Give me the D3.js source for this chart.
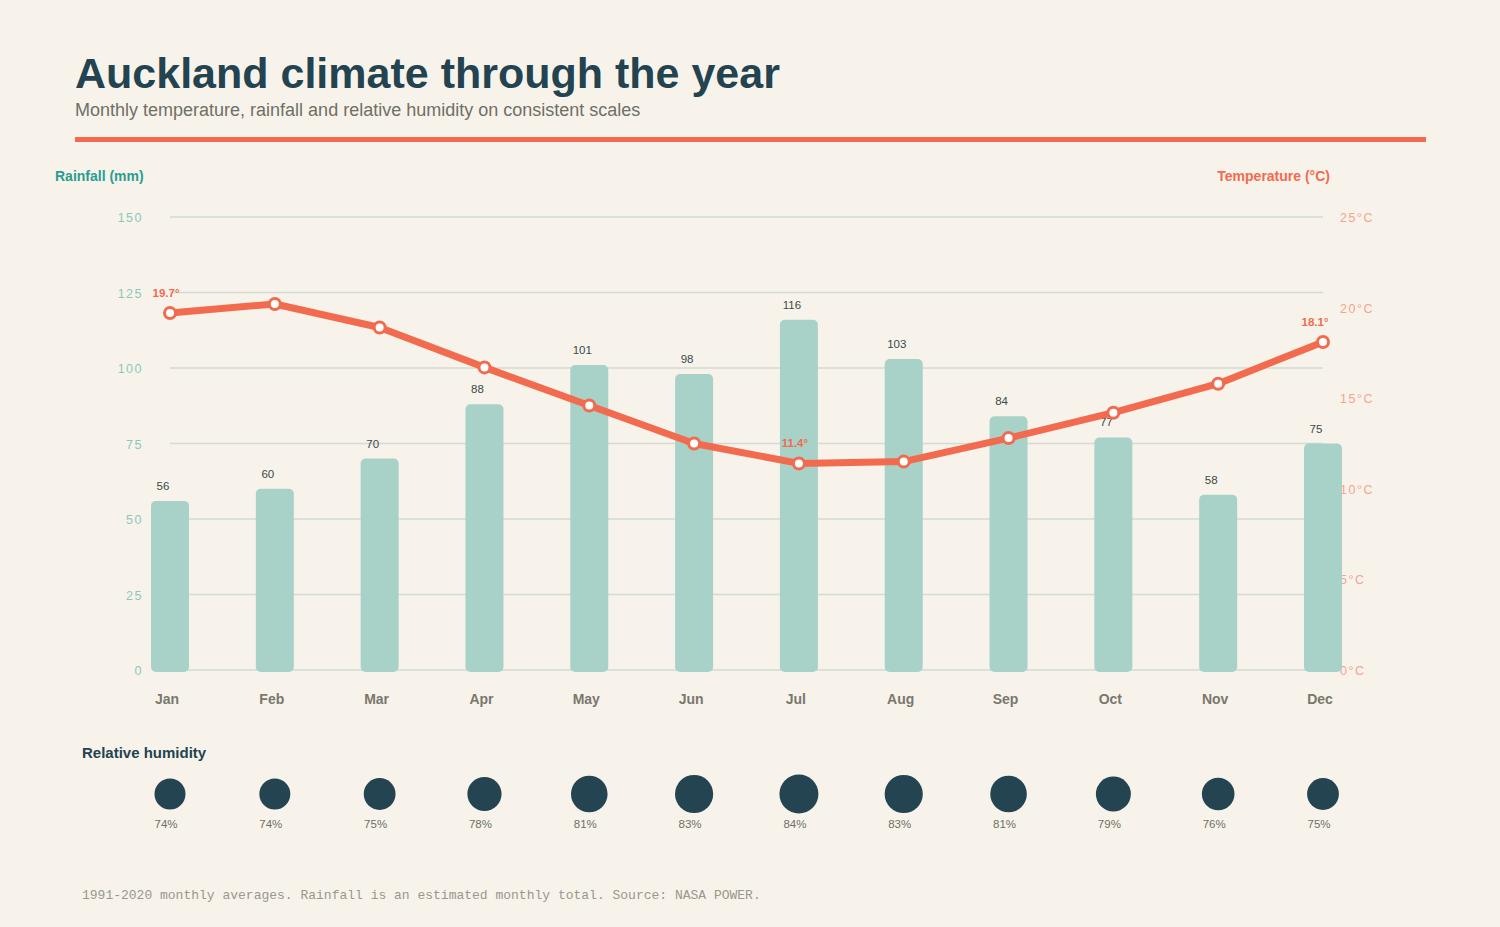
<!DOCTYPE html>
<html><head><meta charset="utf-8">
<script src="https://cdn.jsdelivr.net/npm/d3@7"></script>
<style>body{margin:0;background:#f7f3eb;}svg{display:block;font-family:"Liberation Sans",Arial,sans-serif;}</style>
</head><body><svg id="c" width="1500" height="927"></svg>
<script>
const months=["Jan","Feb","Mar","Apr","May","Jun","Jul","Aug","Sep","Oct","Nov","Dec"];
const rainfall=[56,60,70,88,101,98,116,103,84,77,58,75];
const temperature=[19.7,20.2,18.9,16.7,14.6,12.5,11.4,11.5,12.8,14.2,15.8,18.1];
const humidity=[74,74,75,78,81,83,84,83,81,79,76,75];
const rainTicks=[0,25,50,75,100,125,150];
const tempTicks=[0,5,10,15,20,25];

const svg=d3.select("#c");
svg.append("rect").attr("width",1500).attr("height",927).attr("fill","#f7f3eb");
svg.append("text").attr("x",75).attr("y",88).attr("font-size",43).attr("font-weight","bold").attr("fill","#22434f").text("Auckland climate through the year");
svg.append("text").attr("x",75).attr("y",116).attr("font-size",18).attr("fill","#6f6f66").text("Monthly temperature, rainfall and relative humidity on consistent scales");
svg.append("rect").attr("x",75).attr("y",137).attr("width",1351).attr("height",5).attr("fill","#f26b4e");

const x=d3.scalePoint().domain(months).range([170,1323]);
const yR=d3.scaleLinear().domain([0,150]).range([670,217]);
const yT=d3.scaleLinear().domain([0,25]).range([670,217]);

svg.append("text").attr("x",55).attr("y",181).attr("font-size",14).attr("font-weight","bold").attr("fill","#2a9d8f").text("Rainfall (mm)");
svg.append("text").attr("x",1330).attr("y",181).attr("text-anchor","end").attr("font-size",14).attr("font-weight","bold").attr("fill","#f26b4e").text("Temperature (°C)");

const g=svg.append("g");
g.selectAll("line.grid").data(rainTicks).join("line").attr("x1",170).attr("x2",1323)
 .attr("y1",d=>yR(d)).attr("y2",d=>yR(d)).attr("stroke","#d3dbd2").attr("stroke-width",1.5);
g.selectAll("text.rt").data(rainTicks).join("text").attr("x",143).attr("y",d=>yR(d)+5).attr("text-anchor","end")
 .attr("font-size",12.5).attr("letter-spacing","1.5px").attr("fill","#8cc7bb").text(d=>d);
g.selectAll("text.tt").data(tempTicks).join("text").attr("x",1340).attr("y",d=>yT(d)+5)
 .attr("font-size",12.5).attr("letter-spacing","1.5px").attr("fill","#f4a48f").text(d=>d+"°C");

const bw=38;
g.selectAll("rect.bar").data(rainfall).join("rect").attr("x",(d,i)=>x(months[i])-bw/2).attr("width",bw)
 .attr("y",d=>yR(d)).attr("height",d=>670-yR(d)+2).attr("rx",5).attr("fill","#a8d2c8");
g.selectAll("text.bl").data(rainfall).join("text").attr("x",(d,i)=>x(months[i])-7).attr("y",d=>yR(d)-11)
 .attr("text-anchor","middle").attr("font-size",11.5).attr("fill","#3a4a4a").text(d=>d);

g.selectAll("text.m").data(months).join("text").attr("x",d=>x(d)-3).attr("y",704).attr("text-anchor","middle")
 .attr("font-size",14).attr("font-weight","bold").attr("fill","#7a776d").text(d=>d);

const line=d3.line().x((d,i)=>x(months[i])).y(d=>yT(d)).curve(d3.curveLinear);
g.append("path").datum(temperature).attr("d",line).attr("fill","none").attr("stroke","#f26b4e").attr("stroke-width",7).attr("stroke-linejoin","round");
g.selectAll("circle.tp").data(temperature).join("circle").attr("cx",(d,i)=>x(months[i])).attr("cy",d=>yT(d)).attr("r",5.5)
 .attr("fill","#fff").attr("stroke","#f26b4e").attr("stroke-width",3);
const lab=[0,6,11];
g.selectAll("text.tl").data(lab).join("text").attr("x",i=>x(months[i])-(i===11?8:(i===0?4:4))).attr("y",i=>yT(temperature[i])-16)
 .attr("text-anchor","middle").attr("font-size",11.5).attr("font-weight","bold").attr("fill","#f26b4e").text(i=>temperature[i]+"°");

svg.append("text").attr("x",82).attr("y",758).attr("font-size",15).attr("font-weight","bold").attr("fill","#22434f").text("Relative humidity");
const rH=d3.scaleLinear().domain([74,84]).range([15.5,19.5]);
svg.selectAll("circle.h").data(humidity).join("circle").attr("cx",(d,i)=>x(months[i])).attr("cy",794).attr("r",d=>rH(d)).attr("fill","#244452");
svg.selectAll("text.h").data(humidity).join("text").attr("x",(d,i)=>x(months[i])-4).attr("y",828).attr("text-anchor","middle")
 .attr("font-size",11.5).attr("fill","#6f6f66").text(d=>d+"%");

svg.append("text").attr("x",82).attr("y",899).attr("font-family","'Liberation Mono',monospace").attr("font-size",13).attr("fill","#9a978d")
 .text("1991-2020 monthly averages. Rainfall is an estimated monthly total. Source: NASA POWER.");
</script></body></html>
